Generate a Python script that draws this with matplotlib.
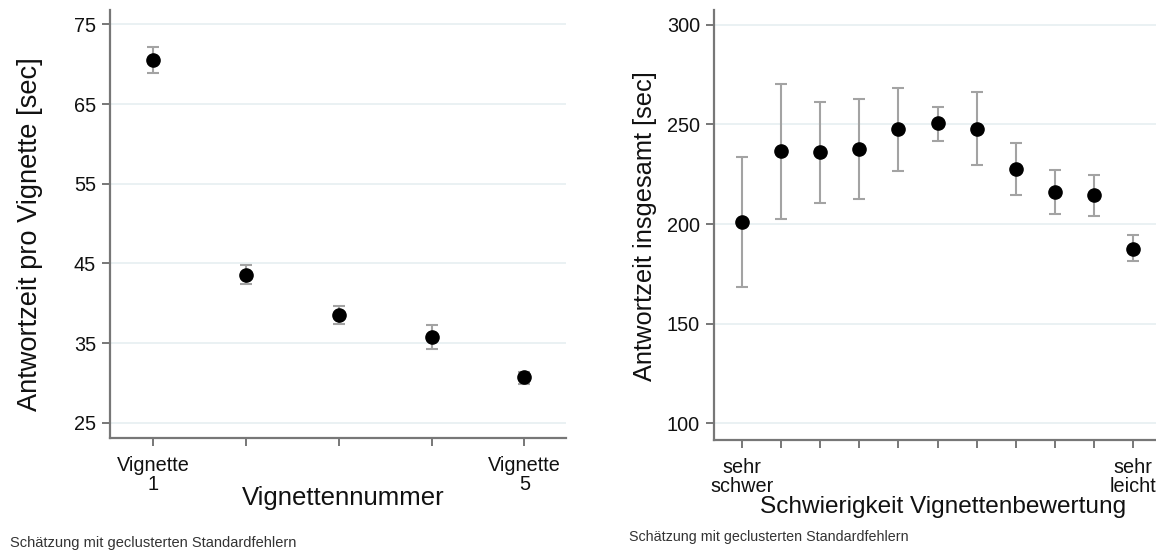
import numpy as np
import matplotlib
matplotlib.use("Agg")
import matplotlib.pyplot as plt

plt.rcParams['font.family'] = ['Liberation Sans', 'DejaVu Sans']

# linkes Diagramm: Antwortzeit pro Vignette
vig_pos = [1, 2, 3, 4, 5]
vig_mean = [70.5, 43.5, 38.5, 35.8, 30.7]
vig_lo = [68.9, 42.4, 37.4, 34.3, 29.9]
vig_hi = [72.15, 44.76, 39.7, 37.3, 31.4]
vig_ticklabels = ['Vignette\n1', '', '', '', 'Vignette\n5']
vig_yticks = [25, 35, 45, 55, 65, 75]

# rechtes Diagramm: Antwortzeit insgesamt nach Schwierigkeit
diff_pos = list(range(11))
diff_mean = [201.2, 236.6, 236.0, 237.5, 247.5, 250.5, 247.8, 227.4, 216.1, 214.5, 187.6]
diff_lo = [168.2, 202.7, 210.5, 212.7, 226.6, 241.6, 229.4, 214.5, 205.0, 204.2, 181.3]
diff_hi = [233.4, 270.2, 261.2, 262.7, 268.2, 258.9, 266.2, 240.5, 227.1, 224.4, 194.3]
diff_ticklabels = ['sehr\nschwer'] + [''] * 9 + ['sehr\nleicht']
diff_yticks = [100, 150, 200, 250, 300]

footnote = 'Schätzung mit geclusterten Standardfehlern'

spine_col = '#777777'
grid_col = '#e8f0f2'
err_col = '#a3a3a3'
text_col = '#111111'

fig = plt.figure(figsize=(11.56, 5.51), dpi=100)
ax1 = fig.add_axes([110 / 1156, 112.7 / 551, 456 / 1156, 428.3 / 551])
ax2 = fig.add_axes([714 / 1156, 111 / 551, 442 / 1156, 430 / 551])


def style(ax):
    for s in ['top', 'right']:
        ax.spines[s].set_visible(False)
    for s in ['left', 'bottom']:
        ax.spines[s].set_color(spine_col)
        ax.spines[s].set_linewidth(1.6)
    ax.tick_params(axis='both', colors=spine_col, width=1.4, length=6,
                   labelsize=14.3, labelcolor=text_col)
    ax.tick_params(axis='x', pad=7)
    ax.tick_params(axis='y', pad=4)
    ax.grid(axis='y', color=grid_col, linewidth=1.3)
    ax.set_axisbelow(True)


def draw(ax, x, m, lo, hi):
    m = np.array(m)
    yerr = [m - np.array(lo), np.array(hi) - m]
    ax.errorbar(x, m, yerr=yerr, fmt='none', ecolor=err_col, elinewidth=1.5,
                capsize=4.5, capthick=1.5, zorder=2)
    ax.plot(x, m, 'o', color='black', markersize=9.5, zorder=3)


style(ax1)
draw(ax1, vig_pos, vig_mean, vig_lo, vig_hi)
ax1.set_xlim(0.533, 5.45)
ax1.set_ylim(23.06, 76.8)
ax1.set_yticks(vig_yticks)
ax1.set_xticks(vig_pos)
ax1.set_xticklabels(vig_ticklabels, linespacing=1.0)
ax1.set_xlabel('Vignettennummer', fontsize=18.5, color=text_col)
ax1.xaxis.set_label_coords(0.511, -0.139)
ax1.xaxis.label.set_va('center')
ax1.set_ylabel('Antwortzeit pro Vignette [sec]', fontsize=19.6, color=text_col)
ax1.yaxis.set_label_coords(-0.175, 0.478)
ax1.yaxis.label.set_va('center')

style(ax2)
draw(ax2, diff_pos, diff_mean, diff_lo, diff_hi)
ax2.set_xlim(-0.71, 10.58)
ax2.set_ylim(91.7, 307.3)
ax2.set_yticks(diff_yticks)
ax2.set_xticks(diff_pos)
ax2.set_xticklabels(diff_ticklabels, linespacing=1.0)
ax2.set_xlabel('Schwierigkeit Vignettenbewertung', fontsize=17.6, color=text_col)
ax2.xaxis.set_label_coords(0.518, -0.156)
ax2.xaxis.label.set_va('center')
ax2.set_ylabel('Antwortzeit insgesamt [sec]', fontsize=18.3, color=text_col)
ax2.yaxis.set_label_coords(-0.157, 0.498)
ax2.yaxis.label.set_va('center')

fig.text(10 / 1156, 1 - 543 / 551, footnote, fontsize=10.5, color='#333333', va='center')
fig.text(629 / 1156, 1 - 537 / 551, footnote, fontsize=10.3, color='#333333', va='center')

fig.savefig('out.png', dpi=100)
